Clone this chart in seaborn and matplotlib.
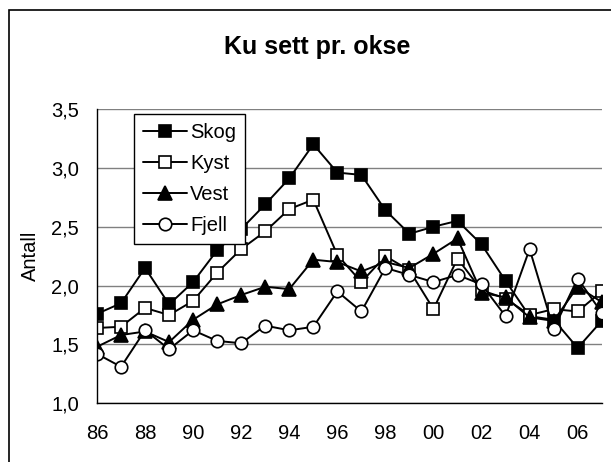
import matplotlib
matplotlib.use("Agg")
import matplotlib.pyplot as plt
import matplotlib.patches as mpatches
import seaborn as sns
import pandas as pd

years = list(range(1986, 2008))
tick_years = list(range(1986, 2008, 2))
tick_labels = ["86", "88", "90", "92", "94", "96", "98", "00", "02", "04", "06"]

skog = [1.76, 1.85, 2.15, 1.84, 2.03, 2.30, 2.48, 2.69, 2.91, 3.20, 2.96,
        2.94, 2.64, 2.44, 2.50, 2.55, 2.35, 2.04, 1.74, 1.71, 1.47, 1.70]
kyst = [1.64, 1.65, 1.81, 1.75, 1.87, 2.11, 2.31, 2.46, 2.65, 2.73, 2.26,
        2.03, 2.25, 2.13, 1.80, 2.23, 1.96, 1.89, 1.75, 1.80, 1.78, 1.95]
vest = [1.48, 1.58, 1.61, 1.52, 1.71, 1.84, 1.92, 1.99, 1.97, 2.22, 2.20,
        2.12, 2.20, 2.15, 2.27, 2.40, 1.94, 1.90, 1.73, 1.70, 1.99, 1.86]
fjell = [1.42, 1.31, 1.62, 1.46, 1.62, 1.53, 1.51, 1.66, 1.62, 1.65, 1.95,
         1.78, 2.15, 2.09, 2.03, 2.09, 2.01, 1.74, 2.31, 1.63, 2.06, 1.77]

series = [("Skog", skog, "s", "black"),
          ("Kyst", kyst, "s", "white"),
          ("Vest", vest, "^", "black"),
          ("Fjell", fjell, "o", "white")]

sns.set_theme(style="white")
plt.rcParams["font.family"] = ["Liberation Sans", "DejaVu Sans"]
plt.rcParams["text.color"] = "black"
plt.rcParams["axes.labelcolor"] = "black"
plt.rcParams["xtick.color"] = "black"
plt.rcParams["ytick.color"] = "black"

fig = plt.figure(figsize=(6.11, 4.62), dpi=100)
ax = fig.add_axes([97 / 611, 1 - 403.3 / 462, 504.7 / 611, 294.3 / 462])

for name, vals, mk, fc in series:
    df = pd.DataFrame({"year": years, "value": vals})
    sns.lineplot(data=df, x="year", y="value", ax=ax, color="black",
                 linewidth=1.4, marker=mk, markersize=9 if mk != "^" else 9.5,
                 markerfacecolor=fc, markeredgecolor="black",
                 markeredgewidth=1.2, label=name)

ax.set_xlim(1986, 2007)
ax.set_ylim(1.0, 3.5)
ax.set_xticks(years, minor=True)
ax.set_xticks(tick_years)
ax.set_xticklabels(tick_labels)
ax.set_yticks([1.0, 1.5, 2.0, 2.5, 3.0, 3.5])
ax.set_yticklabels(["1,0", "1,5", "2,0", "2,5", "3,0", "3,5"])
ax.tick_params(axis="both", which="both", direction="out", length=5,
               width=1, color="black", labelcolor="black", labelsize=14.5)
ax.tick_params(axis="x", which="major", pad=10)
ax.tick_params(axis="y", which="major", pad=8)
ax.yaxis.grid(True, color="#808080", linewidth=1)
ax.xaxis.grid(False)
ax.set_axisbelow(True)
for s in ["top", "right"]:
    ax.spines[s].set_visible(False)
for s in ["left", "bottom"]:
    ax.spines[s].set_color("black")
    ax.spines[s].set_linewidth(1)
ax.set_xlabel("")
ax.set_ylabel("Antall", fontsize=14.5, labelpad=8, color="black")

leg = ax.legend(loc="upper left", bbox_to_anchor=(0.073, 0.983),
                borderaxespad=0, frameon=True, fancybox=False, shadow=False,
                fontsize=14.5, handlelength=2.2, handletextpad=0.15,
                labelspacing=0.6, borderpad=0.45)
leg.get_frame().set_edgecolor("black")
leg.get_frame().set_linewidth(1)
leg.get_frame().set_facecolor("white")
leg.get_frame().set_alpha(1)
for t in leg.get_texts():
    t.set_color("black")

fig.text(317 / 611, 1 - 47 / 462, "Ku sett pr. okse", ha="center", va="center",
         fontsize=18, fontweight="bold", color="black")

border = mpatches.Rectangle((9 / 611, -0.1), 1.2, 1 - 10 / 462 + 0.1,
                            transform=fig.transFigure, fill=False,
                            edgecolor="black", linewidth=1.2)
fig.patches.append(border)

fig.savefig("out.png", dpi=100)
